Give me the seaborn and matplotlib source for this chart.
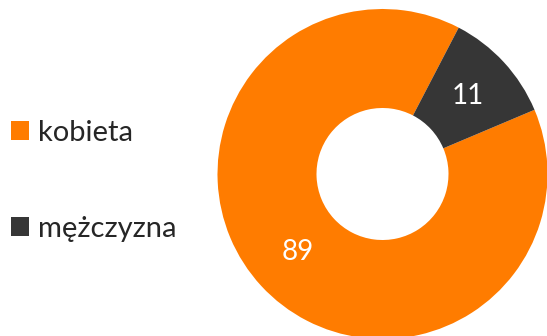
import matplotlib
matplotlib.use("Agg")
import matplotlib.pyplot as plt
import seaborn as sns

# Share of respondents by gender
categories = ["kobieta", "mężczyzna"]
values = [89, 11]
colors = ["#FF7C00", "#363636"]

sns.set_theme(style="white")
plt.rcParams["font.family"] = ["Lato", "DejaVu Sans"]

W, H = 547, 336
fig = plt.figure(figsize=(W / 100, H / 100), dpi=100)
fig.patch.set_facecolor("white")

# Donut: centre at (382.5, 174) px, outer radius 165 px
cx, cy, R = 382.5, 174, 165
ax = fig.add_axes([(cx - R) / W, (H - cy - R) / H, 2 * R / W, 2 * R / H])
ax.set_aspect("equal")
ax.axis("off")

wedges, texts, autotexts = ax.pie(
    values,
    colors=colors,
    startangle=22.9,
    counterclock=False,
    radius=1.0,
    wedgeprops=dict(width=0.6, edgecolor="none"),
    autopct=lambda p: f"{p:.0f}",
    pctdistance=0.7,
    textprops=dict(color="white", fontsize=20),
)
ax.set_xlim(-1, 1)
ax.set_ylim(-1, 1)

leg = fig.legend(
    wedges,
    categories,
    loc="center left",
    bbox_to_anchor=(11 / W, (H - 181) / H),
    frameon=False,
    fontsize=21,
    handlelength=0.62,
    handleheight=0.62,
    handletextpad=0.3,
    labelspacing=2.4,
    borderpad=0,
    borderaxespad=0,
)

fig.savefig("out.png", dpi=100, facecolor="white")
